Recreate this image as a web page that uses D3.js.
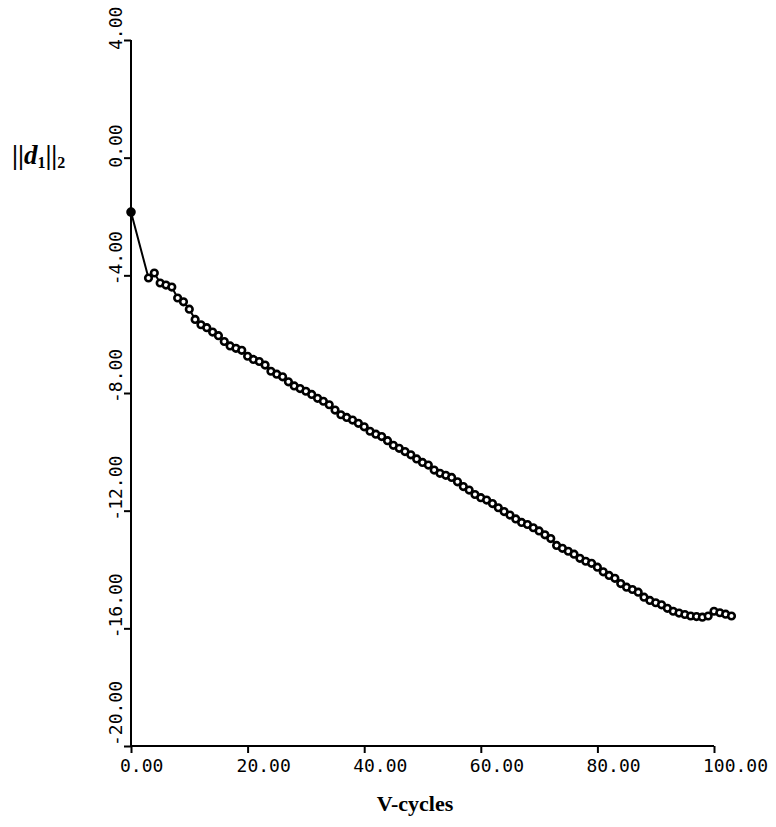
<!DOCTYPE html>
<html>
<head>
<meta charset="utf-8">
<script src="https://cdn.jsdelivr.net/npm/d3@7"></script>
<style>
  html, body { margin: 0; padding: 0; background: #fff; }
  svg { display: block; }
</style>
</head>
<body>
<svg id="chart" width="776" height="827"></svg>
<script>
// ---- data ----
const cycles = [0, 3, 4, 5, 6, 7, 8, 9, 10, 11, 12, 13, 14, 15, 16, 17, 18, 19, 20,
  21, 22, 23, 24, 25, 26, 27, 28, 29, 30, 31, 32, 33, 34, 35, 36, 37, 38, 39, 40,
  41, 42, 43, 44, 45, 46, 47, 48, 49, 50, 51, 52, 53, 54, 55, 56, 57, 58, 59, 60,
  61, 62, 63, 64, 65, 66, 67, 68, 69, 70, 71, 72, 73, 74, 75, 76, 77, 78, 79, 80,
  81, 82, 83, 84, 85, 86, 87, 88, 89, 90, 91, 92, 93, 94, 95, 96, 97, 98, 99, 100,
  101, 102, 103];
const normD1 = [-1.85, -4.09, -3.92, -4.26, -4.33, -4.40, -4.77, -4.90, -5.15, -5.50,
  -5.68, -5.78, -5.93, -6.05, -6.25, -6.40, -6.48, -6.55, -6.75,
  -6.86, -6.93, -7.05, -7.26, -7.36, -7.45, -7.62, -7.76, -7.85, -7.94,
  -8.05, -8.18, -8.28, -8.40, -8.58, -8.74, -8.83, -8.92, -9.03, -9.15,
  -9.30, -9.40, -9.48, -9.62, -9.78, -9.88, -9.99, -10.10, -10.24, -10.36,
  -10.45, -10.62, -10.73, -10.80, -10.87, -11.02, -11.18, -11.30, -11.45, -11.56,
  -11.64, -11.76, -11.90, -12.03, -12.15, -12.28, -12.40, -12.47, -12.58, -12.69,
  -12.82, -12.95, -13.18, -13.28, -13.38, -13.48, -13.62, -13.72, -13.79, -13.92,
  -14.08, -14.20, -14.30, -14.48, -14.60, -14.68, -14.77, -14.94, -15.05, -15.13,
  -15.20, -15.32, -15.42, -15.48, -15.53, -15.58, -15.60, -15.62, -15.58, -15.42,
  -15.47, -15.52, -15.58];
const xTicks = [0, 20, 40, 60, 80, 100];
const xTickLabels = ["0.00", "20.00", "40.00", "60.00", "80.00", "100.00"];
const yTicks = [4, 0, -4, -8, -12, -16, -20];
const yTickLabels = ["4.00", "0.00", "-4.00", "-8.00", "-12.00", "-16.00", "-20.00"];
const xTitle = "V-cycles";

// ---- layout ----
const svg = d3.select("#chart");
const x = d3.scaleLinear().domain([0, 100]).range([131, 714]);
const y = d3.scaleLinear().domain([-20, 4]).range([746, 40]);
const mono = "'DejaVu Sans Mono', 'Liberation Mono', monospace";

// y axis
const yAxisG = svg.append("g").attr("transform", `translate(${x(0)},0)`)
  .call(d3.axisLeft(y).tickValues(yTicks).tickSize(7).tickFormat(""));
yAxisG.select(".domain").attr("stroke", "#000").attr("stroke-width", 2)
  .attr("d", `M0,${y(4)}V${y(-20)}`);
yAxisG.selectAll(".tick line").attr("stroke", "#000").attr("stroke-width", 2);

// x axis
const xAxisG = svg.append("g").attr("transform", `translate(0,${y(-20)})`)
  .call(d3.axisBottom(x).tickValues(xTicks).tickSize(7).tickFormat(""));
xAxisG.select(".domain").attr("stroke", "#000").attr("stroke-width", 2)
  .attr("d", `M${x(0)},0H${x(100)}`);
xAxisG.selectAll(".tick line").attr("stroke", "#000").attr("stroke-width", 2);

// y tick labels (rotated)
svg.append("g").selectAll("text").data(yTicks).join("text")
  .attr("transform", d => `translate(122,${Math.min(y(d) + 10, y(-20))}) rotate(-90)`)
  .attr("text-anchor", "start")
  .attr("font-family", mono).attr("font-size", 18).attr("fill", "#000")
  .text((d, i) => yTickLabels[i]);

// x tick labels
svg.append("g").selectAll("text").data(xTicks).join("text")
  .attr("x", d => x(d) - 11).attr("y", 772)
  .attr("text-anchor", "start")
  .attr("font-family", mono).attr("font-size", 18).attr("fill", "#000")
  .text((d, i) => xTickLabels[i]);

// axis titles
svg.append("text").attr("x", 415).attr("y", 811).attr("text-anchor", "middle")
  .attr("font-family", "'Liberation Serif', 'Times New Roman', serif")
  .attr("font-weight", "bold").attr("font-size", 22).text(xTitle);

const yl = svg.append("text").attr("x", 12).attr("y", 164)
  .attr("font-family", "'Liberation Serif', 'Times New Roman', serif")
  .attr("font-weight", "bold").attr("font-size", 27);
yl.append("tspan").text("||");
yl.append("tspan").attr("font-style", "italic").text("d");
yl.append("tspan").attr("font-size", 16).attr("dy", 4).text("1");
yl.append("tspan").attr("dy", -4).text("||");
yl.append("tspan").attr("font-size", 16).attr("dy", 4).text("2");

// series
const pts = cycles.map((c, i) => [c, normD1[i]]);
svg.append("path").datum(pts)
  .attr("fill", "none").attr("stroke", "#000").attr("stroke-width", 2)
  .attr("d", d3.line().x(d => x(d[0])).y(d => y(d[1])));

svg.append("g").selectAll("circle").data(pts).join("circle")
  .attr("cx", d => x(d[0])).attr("cy", d => y(d[1]))
  .attr("r", (d, i) => i === 0 ? 3.5 : 3.3)
  .attr("fill", (d, i) => i === 0 ? "#000" : "#fff")
  .attr("stroke", "#000").attr("stroke-width", 2.6);
</script>
</body>
</html>
